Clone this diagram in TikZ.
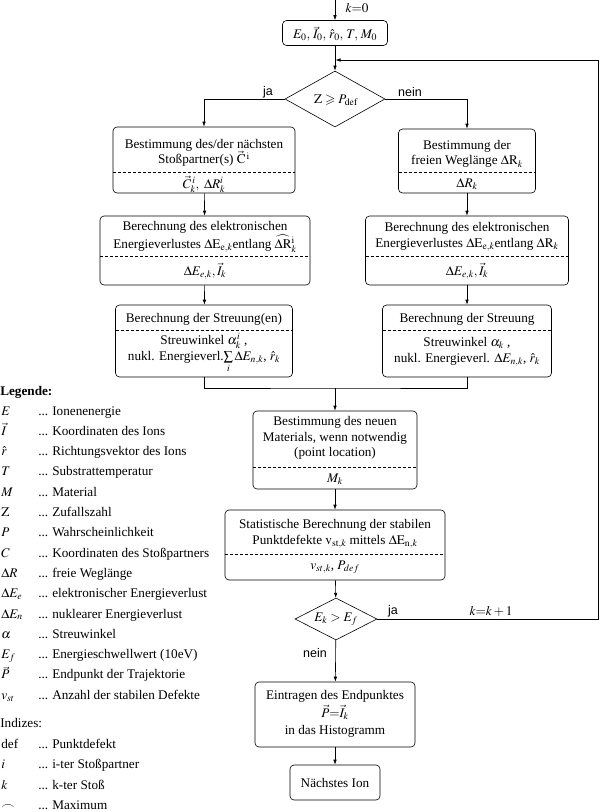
\documentclass[tikz,border=0pt]{standalone}
\usepackage{amssymb}
\usepackage{mathptmx}
\usepackage{fontspec}
\setmainfont{Liberation Serif}
\newfontfamily\sansf{Liberation Sans}
\usetikzlibrary{shapes.geometric,arrows.meta}
\newcommand\fs{\fontsize{13.2}{15.5}\selectfont}
\begin{document}
\begin{tikzpicture}[x=1pt,y=-1pt,line width=0.6pt,
 box/.style={draw, rounded corners=4pt, inner sep=0pt},
 dia/.style={draw, shape=diamond, inner sep=0pt, font=\fs},
 txt/.style={inner sep=0pt, align=center, font=\fs},
 lg/.style={inner sep=0pt, anchor=west, font=\fs, text height=9pt, text depth=3pt},
 lab/.style={inner sep=0pt, font=\sansf\fontsize{12.5}{14}\selectfont},
 dsh/.style={dash pattern=on 3pt off 2pt},
 arr/.style={-{Latex[length=5pt,width=3.5pt]}}]
\useasboundingbox (0,0) rectangle (600,812);

% start
\coordinate (entry) at (335,0);
\node[box, minimum width=105pt, minimum height=25pt] (start) at (335,33) {};
\node[txt] (startt) at (335,34) {$E_0,\,\vec{I}_0,\,\hat{r}_0,\,T,\,M_0$};
\node[txt, font=\fs] (k0) at (357,8) {$k{=}0$};

% decision 1
\node[dia, minimum width=100pt, minimum height=56pt] (D1) at (335,99) {};
\node[txt] (D1t) at (336,100) {$\mathrm{Z}\geqslant P_{\mathrm{def}}$};

% left column
\node[box, minimum width=182pt, minimum height=66pt] (L1) at (204,160) {};
\node[txt] (L1a) at (204,153) {Bestimmung des/der nächsten\\Stoßpartner(s) $\vec{\mathrm{C}}^{\,\mathrm{i}}$};
\draw[dsh] (113,172) -- (295,172);
\node[txt] (L1b) at (204,184) {$\vec{C}^{\,i}_k,\ \Delta R^{i}_k$};

\node[box, minimum width=210pt, minimum height=69pt] (L2) at (205,250.5) {};
\node[txt] (L2a) at (205,237) {Berechnung des elektronischen\\Energieverlustes $\Delta\mathrm{E}_{\mathrm{e},k}$entlang $\widehat{\Delta\mathrm{R}}{}^{\mathrm{i}}_k$};
\draw[dsh] (100,256) -- (310,256);
\node[txt] (L2b) at (205,271) {$\Delta E_{e,k},\vec{I}_k$};

\node[box, minimum width=177pt, minimum height=72pt] (L3) at (204,341) {};
\node[txt] (L3a) at (204,319) {Berechnung der Streuung(en)};
\draw[dsh] (115.5,330) -- (292.5,330);
\node[txt] (L3b) at (204,353) {Streuwinkel $\alpha^{i}_k$ ,\\nukl. Energieverl.$\sum\limits_i\Delta E_{n,k}$, $\hat{r}_k$};

% right column
\node[box, minimum width=137pt, minimum height=64pt] (R1) at (467,161) {};
\node[txt] (R1a) at (467,154) {Bestimmung der\\freien Weglänge $\Delta\mathrm{R}_k$};
\draw[dsh] (398.5,172) -- (535.5,172);
\node[txt] (R1b) at (467,184) {$\Delta R_k$};

\node[box, minimum width=203pt, minimum height=69pt] (R2) at (467,250.5) {};
\node[txt] (R2a) at (467,237) {Berechnung des elektronischen\\Energieverlustes $\Delta\mathrm{E}_{\mathrm{e},k}$entlang $\Delta\mathrm{R}_k$};
\draw[dsh] (365.5,256) -- (568.5,256);
\node[txt] (R2b) at (467,271) {$\Delta E_{e,k},\vec{I}_k$};

\node[box, minimum width=169pt, minimum height=72pt] (R3) at (467,341) {};
\node[txt] (R3a) at (467,319) {Berechnung der Streuung};
\draw[dsh] (382.5,330) -- (551.5,330);
\node[txt] (R3b) at (467,352) {Streuwinkel $\alpha_k$ ,\\nukl. Energieverl. $\Delta E_{n,k}$, $\hat{r}_k$};

% middle
\coordinate (join) at (335,388);
\node[box, minimum width=164pt, minimum height=78pt] (B4) at (335,450) {};
\node[txt] (B4a) at (335,438) {Bestimmung des neuen\\Materials, wenn notwendig\\(point location)};
\draw[dsh] (253,467) -- (417,467);
\node[txt] (B4b) at (335,479) {$M_k$};

\node[box, minimum width=220pt, minimum height=70pt] (B5) at (335,545) {};
\node[txt] (B5a) at (335,534) {Statistische Berechnung der stabilen\\Punktdefekte $\mathrm{v}_{\mathrm{st},k}$ mittels $\Delta\mathrm{E}_{\mathrm{n},k}$};
\draw[dsh] (225,554) -- (445,554);
\node[txt] (B5b) at (335,567) {$v_{st,k}$, $P_{def}$};

\node[dia, minimum width=82pt, minimum height=42pt] (D2) at (336,619) {};
\node[txt] (D2t) at (336,619) {$E_k > E_f$};

\node[box, minimum width=160pt, minimum height=65pt] (B6) at (335,714.5) {};
\node[txt, font=\fontsize{13.2}{17.5}\selectfont] (B6a) at (335,714) {Eintragen des Endpunktes\\$\vec{P}{=}\vec{I}_k$\\in das Histogramm};

\node[box, minimum width=90pt, minimum height=35pt] (B7) at (335,782.5) {};
\node[txt] (B7a) at (335,783) {Nächstes Ion};

% loop
\coordinate (rt) at (598,60);
\coordinate (loopin) at (335.5,60);

% connectors
\draw[arr] (entry) -- (start);
\draw[arr] (start) -- (D1);
\draw[arr] (D1.west) -| (L1.north);
\draw[arr] (D1.east) -| (R1.north);
\draw[arr] (L1) -- (L2);
\draw[arr] (L2) -- (L3);
\draw[arr] (R1) -- (R2);
\draw[arr] (R2) -- (R3);
\draw (L3.south) |- (join) -| (R3.south);
\draw[arr] (join) -- (B4);
\draw[arr] (B4) -- (B5);
\draw[arr] (B5) -- (D2);
\draw[arr] (D2) -- (B6);
\draw[arr] (B6) -- (B7);
\draw[arr] (D2.east) -| (rt) -- (loopin);

% labels
\node[lab] (ja1) at (268,92) {ja};
\node[lab] (nein1) at (410,92) {nein};
\node[lab] (ja2) at (393,611) {ja};
\node[txt] (kk) at (491,611) {$k{=}k+1$};
\node[lab] (nein2) at (315,653) {nein};

% legend
\node[lg] (lgt) at (0,392) {\bfseries Legende:};
\foreach [count=\i] \y/\s/\d in {
 412/{$E$}/{Ionenenergie},
 432.3/{$\vec{I}$}/{Koordinaten des Ions},
 452.6/{$\hat{r}$}/{Richtungsvektor des Ions},
 472.9/{$T$}/{Substrattemperatur},
 493.2/{$M$}/{Material},
 513.5/{$\mathrm{Z}$}/{Zufallszahl},
 533.8/{$P$}/{Wahrscheinlichkeit},
 554.1/{$C$}/{Koordinaten des Stoßpartners},
 574.4/{$\Delta R$}/{freie Weglänge},
 594.7/{$\Delta E_e$}/{elektronischer Energieverlust},
 615/{$\Delta E_n$}/{nuklearer Energieverlust},
 635.3/{$\alpha$}/{Streuwinkel},
 655.6/{$E_f$}/{Energieschwellwert (10eV)},
 675.9/{$\vec{P}$}/{Endpunkt der Trajektorie},
 696.2/{$v_{st}$}/{Anzahl der stabilen Defekte},
 745/{def}/{Punktdefekt},
 765.5/{$i$}/{i-ter Stoßpartner},
 786/{$k$}/{k-ter Stoß},
 806/{$\frown$}/{Maximum}}
{
 \node[lg] (sym\i) at (1,\y) {\s};
 \node[lg] (dot\i) at (38,\y) {...};
 \node[lg] (dsc\i) at (52,\y) {\d};
}
\node[lg] (idx) at (0,724) {Indizes:};
\end{tikzpicture}
\end{document}
